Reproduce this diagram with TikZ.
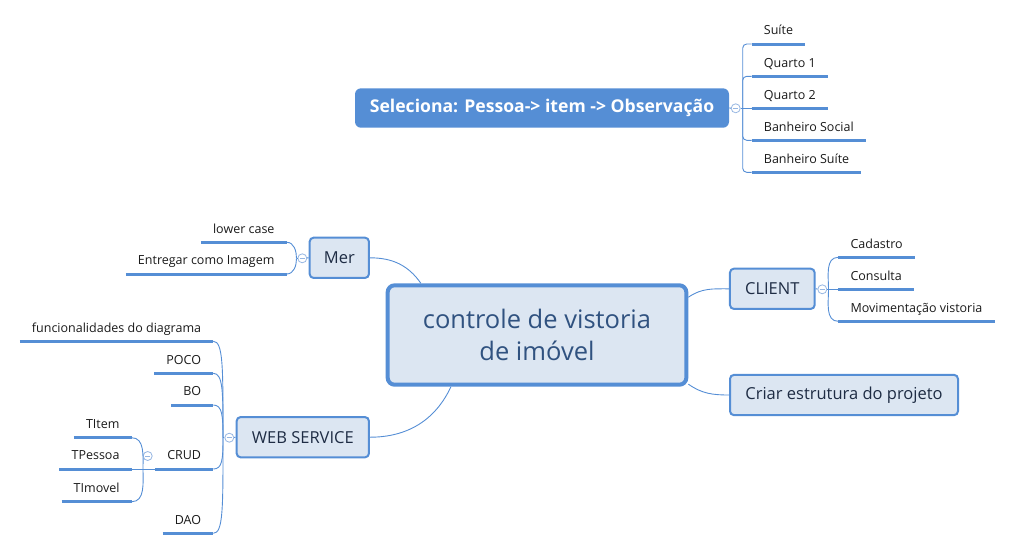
\documentclass[tikz,border=0pt]{standalone}
\usepackage{fontspec}
\setmainfont{Open Sans}

\definecolor{lineblue}{RGB}{85,142,213}
\definecolor{boxfill}{RGB}{220,230,242}
\definecolor{maintext}{RGB}{48,82,128}
\definecolor{boxtext}{RGB}{30,44,68}
\definecolor{leaftext}{RGB}{26,26,26}
\definecolor{togglecol}{RGB}{150,182,226}

\begin{document}
\begin{tikzpicture}[x=1pt,y=1pt,
    main_node/.style={rectangle,rounded corners=7pt,draw=lineblue,line width=4pt,fill=boxfill,text=maintext,align=center,font=\fontsize{25.5}{31.7}\selectfont,minimum width=298.7pt,minimum height=99.4pt,inner sep=0pt},
    sub_node/.style={rectangle,rounded corners=4pt,draw=lineblue,line width=2pt,fill=boxfill,text=boxtext,font=\fontsize{16.5}{20}\selectfont,minimum height=40.3pt,inner sep=0pt},
    float_node/.style={rectangle,rounded corners=6pt,fill=lineblue,text=white,font=\bfseries\fontsize{17.6}{21}\selectfont,minimum width=374pt,minimum height=39.4pt,inner sep=0pt},
    leaf_node/.style={font=\fontsize{12.5}{15}\selectfont,text=leaftext,inner xsep=12pt,inner ysep=6pt,text height=9pt,text depth=3pt},
    toggle_node/.style={circle,draw=togglecol,fill=white,line width=0.8pt,minimum size=9pt,inner sep=0pt,
        path picture={\draw[togglecol,line width=0.8pt] ([xshift=-2.6pt]path picture bounding box.center) -- ([xshift=2.6pt]path picture bounding box.center);}},
    thin_line/.style={draw=lineblue,line width=0.9pt},
    leaf_line/.style={draw=lineblue,line width=3pt}]

    \useasboundingbox (0,0) rectangle (1017,-550);

    % central topic
    \node[main_node] (c) at (537,-335) {controle de vistoria\\de imóvel};

    % floating topic
    \node[float_node] (s) at (542,-108) {Seleciona: Pessoa-> item -> Observação};
    \node[toggle_node] (st) at (735.7,-108.3) {};
    \coordinate (sh) at (742.7,-108.3);
    \node[leaf_node,anchor=south west] (s1) at (751.7,-44) {Suíte};
    \node[leaf_node,anchor=south west] (s2) at (751.7,-76.3) {Quarto 1};
    \node[leaf_node,anchor=south west] (s3) at (751.7,-108.3) {Quarto 2};
    \node[leaf_node,anchor=south west] (s4) at (751.7,-140.3) {Banheiro Social};
    \node[leaf_node,anchor=south west] (s5) at (751.7,-172.3) {Banheiro Suíte};

    % main topics
    \node[sub_node,minimum width=59.3pt] (m) at (339.3,-257.8) {Mer};
    \node[sub_node,minimum width=132.3pt] (w) at (302.8,-437.2) {WEB SERVICE};
    \node[sub_node,minimum width=84.7pt] (k) at (772.3,-288.8) {CLIENT};
    \node[sub_node,minimum width=228pt] (p) at (844,-395) {Criar estrutura do projeto};

    \node[toggle_node] (mt) at (302.3,-258.3) {};
    \node[toggle_node] (wt) at (229.3,-437.7) {};
    \node[toggle_node] (kt) at (822.3,-289.3) {};
    \coordinate (mh) at (296.5,-258.3);
    \coordinate (wh) at (223,-437.7);
    \coordinate (kh) at (828.5,-289.3);

    % Mer
    \node[leaf_node,anchor=south east] (m1) at (286.7,-242.3) {lower case};
    \node[leaf_node,anchor=south east] (m2) at (286.7,-274) {Entregar como Imagem};

    % CLIENT
    \node[leaf_node,anchor=south west] (k1) at (838.3,-257.3) {Cadastro};
    \node[leaf_node,anchor=south west] (k2) at (838.3,-289.3) {Consulta};
    \node[leaf_node,anchor=south west] (k3) at (838.3,-321.3) {Movimentação vistoria};

    % WEB SERVICE
    \node[leaf_node,anchor=south east] (w1) at (213.3,-341.3) {funcionalidades do diagrama};
    \node[leaf_node,anchor=south east] (w2) at (213.3,-373.3) {POCO};
    \node[leaf_node,anchor=south east] (w3) at (213.3,-405) {BO};
    \node[leaf_node,anchor=south east] (w4) at (213.3,-469) {CRUD};
    \node[leaf_node,anchor=south east] (w5) at (213.3,-533.3) {DAO};

    % CRUD
    \node[toggle_node] (tt) at (147.7,-456) {};
    \coordinate (th) at (143,-469);
    \node[leaf_node,anchor=south east] (t1) at (131.7,-437.7) {TItem};
    \node[leaf_node,anchor=south east] (t2) at (131.7,-469) {TPessoa};
    \node[leaf_node,anchor=south east] (t3) at (131.7,-501.7) {TImovel};

  \path[thin_line]
    (c.14) edge[out=35,in=180] (k.west)
    (c.-18) edge[out=-35,in=180] (p.west)
    (m.east) edge[out=0,in=125] (c.156)
    (c.211) edge[out=-115,in=0] (w.east);

  \path[thin_line]
    (s.east) edge (st)
    (st) edge (sh)
    (k.east) edge (kt)
    (kt) edge (kh)
    (m.west) edge (mt)
    (mt) edge (mh)
    (w.west) edge (wt)
    (wt) edge (wh);

    \draw[thin_line,rounded corners=4pt] (s1.south west) -| (sh) |- (s5.south west);
    \draw[thin_line,rounded corners=4pt] (s2.south west) -| (sh) |- (s4.south west);
    \draw[thin_line] (sh) -- (s3.south west);

  \path[thin_line]
    (kh) edge[out=90,in=180] (k1.south west)
    (kh) edge (k2.south west)
    (kh) edge[out=-90,in=180] (k3.south west)
    (m1.south east) edge[out=0,in=90] (mh)
    (m2.south east) edge[out=0,in=-90] (mh);

  \path[thin_line]
    (w1.south east) edge[out=0,in=90,out distance=10pt,in distance=70pt] (wh)
    (w2.south east) edge[out=0,in=90,out distance=10pt,in distance=45pt] (wh)
    (w3.south east) edge[out=0,in=90,out distance=9pt,in distance=22pt] (wh)
    (w4.south east) edge[out=0,in=-90,out distance=9pt,in distance=22pt] (wh)
    (w5.south east) edge[out=0,in=-90,out distance=10pt,in distance=70pt] (wh)
    (w4.south west) edge (th)
    (th) edge (t2.south east)
    (t1.south east) edge[out=0,in=90] (th)
    (t3.south east) edge[out=0,in=-90] (th);

    % underlines
    \draw[leaf_line]
      (s1.south west) -- (s1.south east) (s2.south west) -- (s2.south east)
      (s3.south west) -- (s3.south east) (s4.south west) -- (s4.south east)
      (s5.south west) -- (s5.south east)
      (k1.south west) -- (k1.south east) (k2.south west) -- (k2.south east)
      (k3.south west) -- (k3.south east)
      (m1.south west) -- (m1.south east) (m2.south west) -- (m2.south east)
      (w1.south west) -- (w1.south east) (w2.south west) -- (w2.south east)
      (w3.south west) -- (w3.south east) (w4.south west) -- (w4.south east)
      (w5.south west) -- (w5.south east)
      (t1.south west) -- (t1.south east) (t2.south west) -- (t2.south east)
      (t3.south west) -- (t3.south east);
\end{tikzpicture}
\end{document}
